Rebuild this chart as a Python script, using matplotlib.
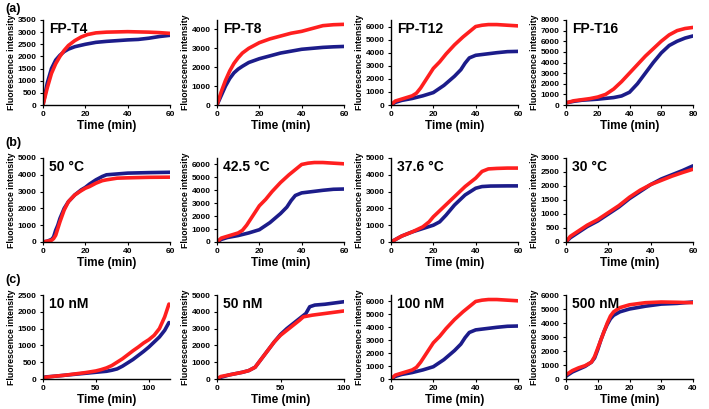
import matplotlib
matplotlib.use("Agg")
import matplotlib.pyplot as plt

plt.rcParams['font.family'] = ['Liberation Sans', 'DejaVu Sans']
plt.rcParams['font.weight'] = 'bold'

RED = '#ff1f1f'
BLUE = '#1c1c8a'

# ---- Row (a): FP-T4, FP-T8, FP-T12, FP-T16 ----
a1_t_red = [0, 2, 4, 6, 8, 10, 12, 15, 18, 21, 25, 30, 40, 50, 55, 60]
a1_y_red = [0, 700, 1300, 1700, 2000, 2250, 2450, 2650, 2800, 2900, 2970, 3000, 3020, 3000, 2980, 2950]
a1_t_blue = [0, 2, 4, 6, 8, 10, 12, 15, 20, 25, 30, 40, 45, 50, 55, 60]
a1_y_blue = [0, 900, 1500, 1850, 2050, 2200, 2300, 2400, 2500, 2580, 2620, 2680, 2700, 2750, 2820, 2870]

a2_t_red = [0, 2, 4, 6, 8, 10, 12, 15, 20, 25, 30, 35, 40, 45, 50, 55, 60]
a2_y_red = [0, 700, 1300, 1800, 2200, 2500, 2750, 3000, 3300, 3500, 3650, 3800, 3900, 4050, 4200, 4250, 4270]
a2_t_blue = [0, 2, 4, 6, 8, 10, 12, 15, 20, 25, 30, 35, 40, 45, 50, 55, 60]
a2_y_blue = [0, 500, 1000, 1400, 1700, 1900, 2050, 2250, 2450, 2600, 2750, 2850, 2950, 3000, 3050, 3080, 3100]

t12_t_red = [0, 2, 5, 8, 10, 12, 14, 16, 18, 20, 23, 26, 30, 34, 37, 40, 43, 46, 50, 55, 60]
t12_y_red = [0, 300, 450, 600, 700, 900, 1300, 1800, 2300, 2800, 3300, 3900, 4600, 5200, 5600, 6000, 6100, 6150, 6150, 6100, 6050]
t12_t_blue = [0, 2, 5, 10, 15, 20, 25, 30, 33, 35, 37, 40, 45, 50, 55, 60]
t12_y_blue = [0, 200, 350, 500, 700, 950, 1500, 2200, 2700, 3200, 3600, 3800, 3900, 4000, 4080, 4100]

a4_t_red = [0, 5, 10, 15, 20, 25, 30, 35, 40, 45, 50, 55, 60, 65, 70, 75, 80]
a4_y_red = [200, 400, 500, 600, 750, 1000, 1500, 2200, 3000, 3800, 4600, 5300, 6000, 6600, 7000, 7200, 7300]
a4_t_blue = [0, 5, 10, 20, 30, 35, 40, 45, 50, 55, 60, 65, 70, 75, 80]
a4_y_blue = [200, 350, 450, 550, 700, 850, 1200, 2000, 3000, 4000, 4900, 5600, 6000, 6300, 6500]

# ---- Row (b): 50, 42.5, 37.6, 30 °C ----
b1_t_red = [0, 2, 4, 5, 6, 7, 8, 10, 12, 15, 18, 20, 22, 25, 28, 30, 35, 40, 50, 60]
b1_y_red = [0, 50, 100, 200, 400, 800, 1200, 1900, 2400, 2800, 3050, 3200, 3300, 3500, 3650, 3700, 3800, 3820, 3850, 3860]
b1_t_blue = [0, 2, 4, 5, 6, 7, 8, 10, 12, 15, 18, 20, 22, 25, 28, 30, 35, 40, 50, 60]
b1_y_blue = [0, 50, 150, 300, 700, 1000, 1400, 2000, 2400, 2800, 3100, 3250, 3450, 3700, 3900, 4000, 4050, 4100, 4130, 4150]

b3_t_red = [0, 5, 10, 15, 18, 20, 25, 30, 35, 40, 43, 46, 50, 55, 60]
b3_y_red = [0, 350, 600, 900, 1200, 1500, 2100, 2700, 3300, 3800, 4200, 4350, 4380, 4400, 4400]
b3_t_blue = [0, 5, 10, 15, 20, 23, 26, 30, 35, 40, 43, 47, 55, 60]
b3_y_blue = [0, 350, 600, 800, 1000, 1200, 1600, 2200, 2800, 3200, 3300, 3330, 3340, 3340]

b4_t_red = [0, 2, 5, 10, 15, 20, 25, 30, 35, 40, 45, 50, 55, 60]
b4_y_red = [0, 200, 350, 600, 800, 1050, 1300, 1600, 1850, 2050, 2200, 2350, 2480, 2600]
b4_t_blue = [0, 2, 5, 10, 15, 20, 25, 30, 35, 40, 45, 50, 55, 60]
b4_y_blue = [0, 150, 300, 550, 750, 1000, 1250, 1550, 1800, 2050, 2250, 2400, 2550, 2720]

# ---- Row (c): 10, 50, 100, 500 nM ----
c1_t_red = [0, 2, 10, 20, 30, 40, 50, 55, 60, 65, 70, 75, 80, 85, 90, 95, 100, 105, 110, 115, 119]
c1_y_red = [0, 50, 80, 110, 150, 190, 240, 280, 330, 400, 500, 600, 720, 840, 950, 1070, 1170, 1300, 1500, 1850, 2230]
c1_t_blue = [0, 2, 10, 20, 30, 40, 50, 60, 65, 70, 75, 80, 85, 90, 95, 100, 105, 110, 115, 119]
c1_y_blue = [0, 60, 80, 110, 140, 170, 200, 230, 260, 300, 380, 480, 580, 700, 820, 950, 1100, 1250, 1450, 1680]

c2_t_red = [0, 3, 10, 20, 25, 30, 35, 40, 45, 50, 55, 60, 65, 68, 75, 85, 95, 100]
c2_y_red = [0, 150, 250, 400, 500, 700, 1200, 1700, 2200, 2600, 2900, 3200, 3500, 3700, 3800, 3900, 4000, 4050]
c2_t_blue = [0, 3, 10, 20, 25, 30, 35, 40, 45, 50, 55, 60, 65, 70, 73, 77, 85, 95, 100]
c2_y_blue = [0, 100, 250, 400, 500, 700, 1200, 1700, 2200, 2650, 3000, 3300, 3600, 3900, 4300, 4400, 4450, 4550, 4600]

c4_t_red = [0, 2, 4, 6, 8, 9, 10, 11, 12, 13, 14, 15, 17, 20, 25, 30, 35, 40]
c4_y_red = [300, 600, 800, 950, 1200, 1600, 2200, 2800, 3400, 4000, 4500, 4800, 5100, 5300, 5450, 5500, 5480, 5450]
c4_t_blue = [0, 2, 4, 6, 8, 9, 10, 11, 12, 13, 14, 15, 17, 20, 25, 30, 35, 40]
c4_y_blue = [200, 500, 700, 900, 1200, 1500, 2100, 2800, 3400, 3900, 4300, 4550, 4800, 5000, 5200, 5350, 5400, 5500]

titles = [["FP-T4", "FP-T8", "FP-T12", "FP-T16"],
          ["50 \u00b0C", "42.5 \u00b0C", "37.6 \u00b0C", "30 \u00b0C"],
          ["10 nM", "50 nM", "100 nM", "500 nM"]]
row_labels = ["(a)", "(b)", "(c)"]

panels = [
    [(a1_t_red, a1_y_red, a1_t_blue, a1_y_blue, 60, [0, 20, 40, 60], 3500, [0, 500, 1000, 1500, 2000, 2500, 3000, 3500]),
     (a2_t_red, a2_y_red, a2_t_blue, a2_y_blue, 60, [0, 20, 40, 60], 4500, [0, 1000, 2000, 3000, 4000]),
     (t12_t_red, t12_y_red, t12_t_blue, t12_y_blue, 60, [0, 20, 40, 60], 6500, [0, 1000, 2000, 3000, 4000, 5000, 6000]),
     (a4_t_red, a4_y_red, a4_t_blue, a4_y_blue, 80, [0, 20, 40, 60, 80], 8000, list(range(0, 8001, 1000)))],
    [(b1_t_red, b1_y_red, b1_t_blue, b1_y_blue, 60, [0, 20, 40, 60], 5000, list(range(0, 5001, 1000))),
     (t12_t_red, t12_y_red, t12_t_blue, t12_y_blue, 60, [0, 20, 40, 60], 6500, list(range(0, 6001, 1000))),
     (b3_t_red, b3_y_red, b3_t_blue, b3_y_blue, 60, [0, 20, 40, 60], 5000, list(range(0, 5001, 1000))),
     (b4_t_red, b4_y_red, b4_t_blue, b4_y_blue, 60, [0, 20, 40, 60], 3000, list(range(0, 3001, 500)))],
    [(c1_t_red, c1_y_red, c1_t_blue, c1_y_blue, 120, [0, 50, 100], 2500, list(range(0, 2501, 500))),
     (c2_t_red, c2_y_red, c2_t_blue, c2_y_blue, 100, [0, 50, 100], 5000, list(range(0, 5001, 1000))),
     (t12_t_red, t12_y_red, t12_t_blue, t12_y_blue, 60, [0, 20, 40, 60], 6500, list(range(0, 6001, 1000))),
     (c4_t_red, c4_y_red, c4_t_blue, c4_y_blue, 40, [0, 10, 20, 30, 40], 6000, list(range(0, 6001, 1000)))],
]

W, H = 709, 409
fig = plt.figure(figsize=(W / 100, H / 100), dpi=100)

col_left = [43, 217, 391, 566]
col_w = 127
row_tb = [(20, 105), (158, 242), (295, 379)]

for r in range(3):
    top, bot = row_tb[r]
    fig.text(5 / W, 1 - (9 + [0, 134, 271][r]) / H, row_labels[r], fontsize=9,
             fontweight='bold', va='center', ha='left')
    for c in range(4):
        tr, yr, tb, yb, xmax, xt, ymax, yt = panels[r][c]
        ax = fig.add_axes([col_left[c] / W, 1 - bot / H, col_w / W, (bot - top) / H])
        ax.plot(tb, yb, color=BLUE, lw=2.6, solid_capstyle='round')
        ax.plot(tr, yr, color=RED, lw=2.6, solid_capstyle='round')
        ax.set_xlim(0, xmax)
        ax.set_ylim(0, ymax)
        ax.set_xticks(xt)
        ax.set_yticks(yt)
        ax.spines['top'].set_visible(False)
        ax.spines['right'].set_visible(False)
        for s in ('left', 'bottom'):
            ax.spines[s].set_linewidth(1.0)
        ax.tick_params(labelsize=6, length=2.5, width=0.8, pad=2)
        for lab in ax.get_xticklabels() + ax.get_yticklabels():
            lab.set_fontweight('bold')
        ax.set_xlabel("Time (min)", fontsize=8.5, fontweight='bold', labelpad=1)
        ax.set_ylabel("Fluorescence intensity", fontsize=6.3, fontweight='bold', labelpad=1)
        ax.text(0.05, 0.98, titles[r][c], transform=ax.transAxes, fontsize=10,
                fontweight='bold', va='top', ha='left')

fig.savefig("out.png", dpi=100)
